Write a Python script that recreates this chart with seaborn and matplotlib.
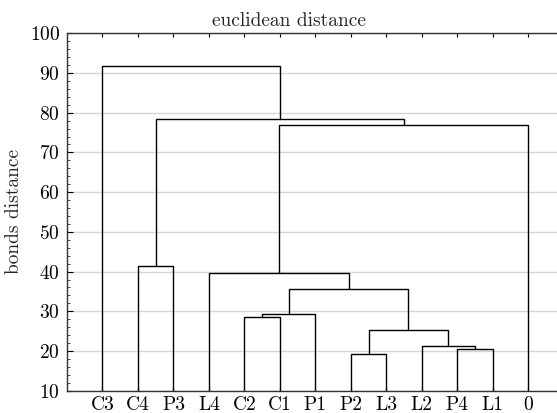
import matplotlib
matplotlib.use("Agg")
import matplotlib.pyplot as plt
from matplotlib.ticker import MultipleLocator
import seaborn as sns
import pandas as pd

# ---- data ----
leaves = ["C3", "C4", "P3", "L4", "C2", "C1", "P1", "P2", "L3", "L2", "P4", "L1", "0"]
# merges: (left child, right child, height); children are leaf names or merge ids "m#"
merge_ids = ["m1", "m2", "m3", "m4", "m5", "m6", "m7", "m8", "m9", "m10", "m11", "m12"]
merge_left = ["P2", "P4", "L2", "m1", "C2", "m5", "m6", "L4", "m8", "C4", "m10", "C3"]
merge_right = ["L3", "L1", "m2", "m3", "C1", "P1", "m4", "m7", "0", "P3", "m9", "m11"]
merge_height = [19.2, 20.6, 21.3, 25.2, 28.6, 29.3, 35.5, 39.6, 76.8, 41.3, 78.4, 91.8]

title = "euclidean distance"
ylabel = "bonds distance"

# ---- build dendrogram segments ----
pos = {name: i + 1 for i, name in enumerate(leaves)}
hgt = {name: 0.0 for name in leaves}
rows = []
for mid, l, r, h in zip(merge_ids, merge_left, merge_right, merge_height):
    xl, xr = pos[l], pos[r]
    pts = [(xl, hgt[l]), (xl, h), (xr, h), (xr, hgt[r])]
    for k, (x, y) in enumerate(pts):
        rows.append({"link": mid, "order": k, "x": x, "y": y})
    pos[mid] = (xl + xr) / 2
    hgt[mid] = h
df = pd.DataFrame(rows)

# ---- plot ----
sns.set_style("white")
plt.rcParams["font.family"] = ["cmr10", "DejaVu Serif"]
plt.rcParams["axes.formatter.use_mathtext"] = True
FS = 14

fig = plt.figure(figsize=(5.57, 4.13), dpi=100)
ax = fig.add_axes([67 / 557, (413 - 390.7) / 413, 14 * 35.48 / 557, 357.4 / 413])

ax.grid(axis="y", color="#d6d6d6", linewidth=1.0, zorder=0)
ax.set_axisbelow(True)

sns.lineplot(data=df, x="x", y="y", units="link", estimator=None, sort=False,
             color="black", linewidth=1.0, ax=ax, legend=False, zorder=3)

ax.set_xlim(0, 14)
ax.set_ylim(10, 100)
ax.set_xticks(range(1, len(leaves) + 1))
ax.set_xticklabels(leaves, fontsize=FS)
ax.set_yticks(range(10, 101, 10))
ax.yaxis.set_minor_locator(MultipleLocator(2))
for lab in ax.get_yticklabels():
    lab.set_fontsize(FS)

ax.tick_params(axis="x", which="major", direction="in", length=3, width=0.8,
               top=True, bottom=True, pad=4, colors="black")
ax.tick_params(axis="y", which="major", direction="in", length=4, width=0.8,
               left=True, right=False, pad=5, colors="black")
ax.tick_params(axis="y", which="minor", direction="in", length=2, width=0.6,
               left=True, right=False)

for side in ["left", "bottom", "top", "right"]:
    ax.spines[side].set_color("#333333")
    ax.spines[side].set_linewidth(1.0)

ax.set_xlabel("")
ax.set_ylabel(ylabel, fontsize=FS)
ax.yaxis.set_label_coords(-0.0886, 0.5)
ax.set_title(title, fontsize=FS, x=0.447, pad=5)

fig.savefig("out.png", dpi=100)
